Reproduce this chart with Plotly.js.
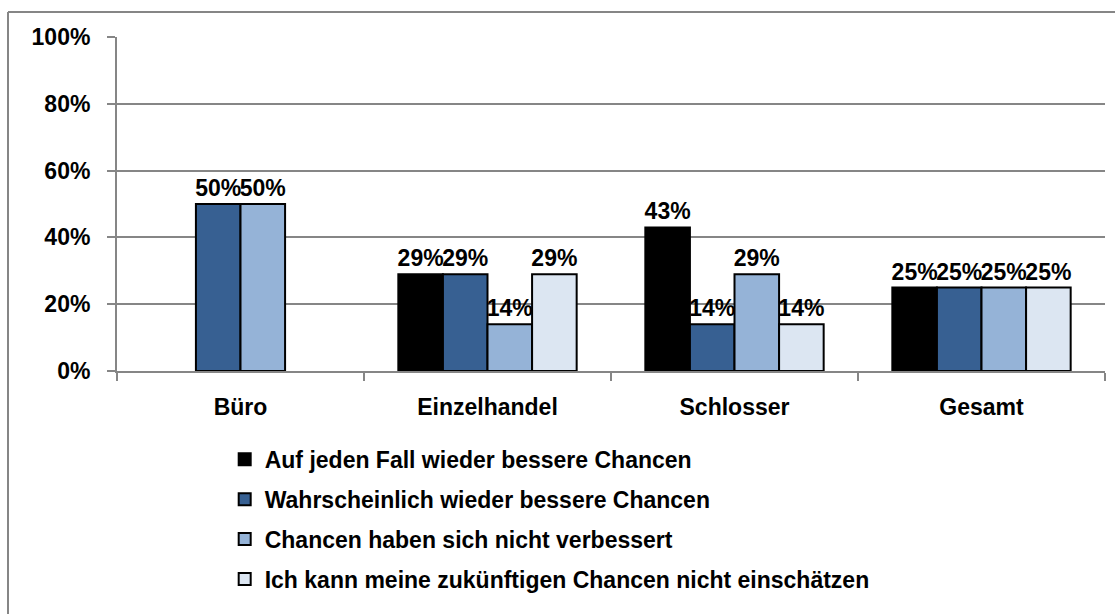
<!DOCTYPE html>
<html>
<head>
<meta charset="utf-8">
<script src="https://cdn.plot.ly/plotly-3.0.1.min.js"></script>
<style>
html, body { margin: 0; padding: 0; background: #ffffff; }
#chart { width: 1115px; height: 614px; }
</style>
</head>
<body>
<div id="chart"></div>
<script>
// ---- data ----
const categories = ["Büro", "Einzelhandel", "Schlosser", "Gesamt"];
const seriesNames = [
  "Auf jeden Fall wieder bessere Chancen",
  "Wahrscheinlich wieder bessere Chancen",
  "Chancen haben sich nicht verbessert",
  "Ich kann meine zukünftigen Chancen nicht einschätzen"
];
const aufJedenFall = [null, 29, 43, 25];
const wahrscheinlich = [50, 29, 14, 25];
const nichtVerbessert = [50, 14, 29, 25];
const nichtEinschaetzen = [null, 29, 14, 25];
const yTickValues = [0, 20, 40, 60, 80, 100];
const yTickLabels = ["0%", "20%", "40%", "60%", "80%", "100%"];

// ---- style ----
const colors = ["#000000", "#376092", "#95B3D7", "#DCE6F2"];
const FONT = "Liberation Sans, Arial, sans-serif";
const allSeries = [aufJedenFall, wahrscheinlich, nichtVerbessert, nichtEinschaetzen];

const traces = allSeries.map((vals, i) => ({
  type: "bar",
  name: seriesNames[i],
  x: categories,
  y: vals,
  text: vals.map(v => (v === null ? "" : v + "%")),
  textposition: "outside",
  constraintext: "none",
  cliponaxis: false,
  textfont: { family: FONT, size: 23, color: "#000000", weight: "bold" },
  marker: { color: colors[i], line: { color: "#000000", width: 2 } },
  legendgroup: "g" + i,
  hoverinfo: "none"
}));

const layout = {
  width: 1115,
  height: 614,
  margin: { l: 117, r: 10, t: 37, b: 243 },
  paper_bgcolor: "#ffffff",
  plot_bgcolor: "#ffffff",
  barmode: "group",
  bargap: 0.278,
  bargroupgap: 0,
  showlegend: true,
  font: { family: FONT, color: "#000000" },
  xaxis: {
    type: "category",
    showline: true,
    linecolor: "#868686",
    linewidth: 2,
    ticks: "outside",
    tickson: "boundaries",
    ticklen: 8,
    tickwidth: 2,
    tickcolor: "#868686",
    showgrid: false,
    tickfont: { family: FONT, size: 23, color: "#000000", weight: "bold" },
    ticklabelstandoff: 14,
    fixedrange: true
  },
  yaxis: {
    range: [0, 100],
    tickvals: yTickValues,
    ticktext: yTickLabels,
    showline: true,
    linecolor: "#868686",
    linewidth: 2,
    ticks: "outside",
    ticklen: 8,
    tickwidth: 2,
    tickcolor: "#868686",
    showgrid: true,
    gridcolor: "#868686",
    gridwidth: 2,
    zeroline: false,
    tickfont: { family: FONT, size: 23, color: "#000000", weight: "bold" },
    ticklabelstandoff: 12,
    fixedrange: true
  },
  legend: {
    orientation: "v",
    x: 0.109,
    xanchor: "left",
    y: -0.2,
    yanchor: "top",
    traceorder: "grouped",
    tracegroupgap: 7,
    font: { family: FONT, size: 23, color: "#000000", weight: "bold" },
    bgcolor: "rgba(0,0,0,0)"
  },
  shapes: [
    { type: "line", xref: "paper", yref: "paper",
      x0: -109 / 988, x1: 1.2, y0: (614 - 12 - 243) / 334, y1: (614 - 12 - 243) / 334,
      line: { color: "#868686", width: 2 } },
    { type: "line", xref: "paper", yref: "paper",
      x0: -109 / 988, x1: -109 / 988, y0: (614 - 12 - 243) / 334, y1: -1.2,
      line: { color: "#868686", width: 2 } }
  ]
};

Plotly.newPlot("chart", traces, layout, { displayModeBar: false, staticPlot: true });
</script>
</body>
</html>
